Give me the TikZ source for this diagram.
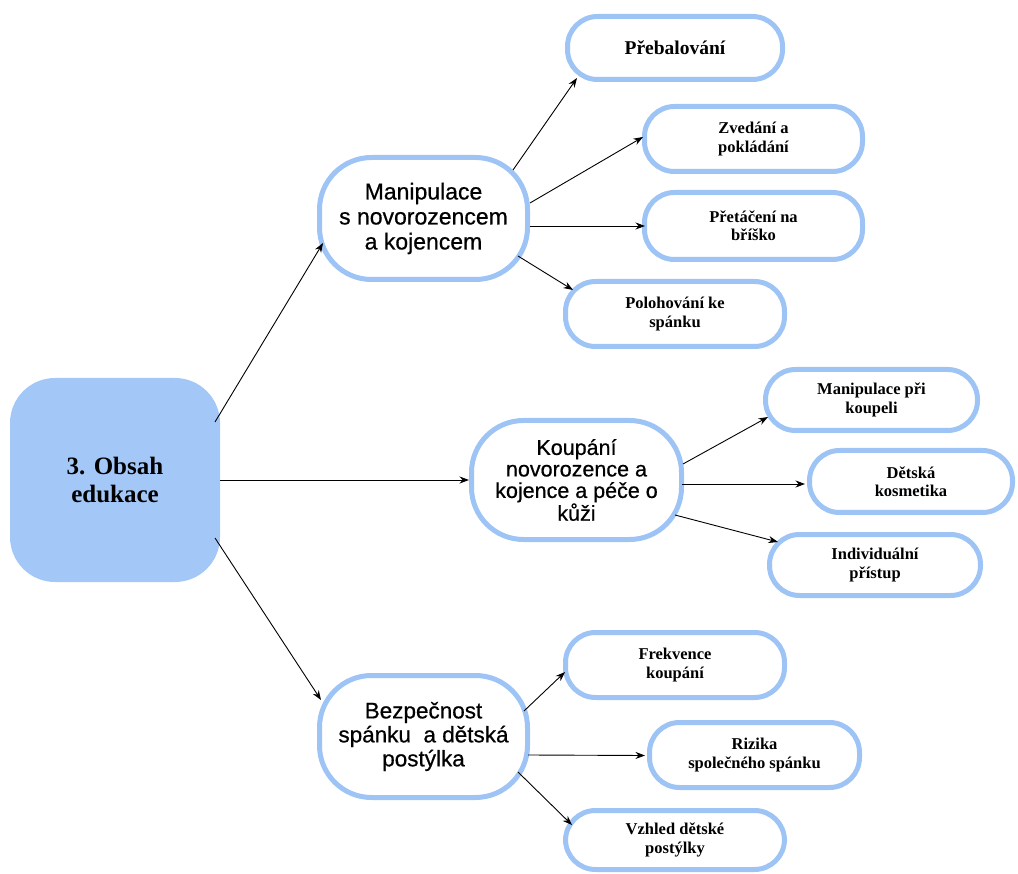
\documentclass[tikz,border=0pt]{standalone}
\usepackage{fontspec}
\setmainfont{Liberation Serif}
\newfontfamily\sansf[FakeBold=0.6]{Liberation Sans}
\usetikzlibrary{calc,arrows.meta}
\definecolor{rootfill}{HTML}{A3C8F8}
\definecolor{edgeblue}{HTML}{9EC4F6}
\begin{document}
\begin{tikzpicture}[x=1pt,y=-1pt,
 base/.style={draw=edgeblue, line width=5pt, fill=white, align=center, inner sep=0pt, text=black},
 big/.style={base, rounded corners=52pt},
 small/.style={base, rounded corners=30pt, font=\bfseries\fontsize{16.5}{18.3}\selectfont},
 arr/.style={-{Stealth[length=9.5pt,width=7pt]}, line width=0.9pt, black}]
\useasboundingbox (0,0) rectangle (1018,874);

\node[fill=rootfill, rounded corners=45pt, minimum width=210pt, minimum height=204pt, inner sep=0pt, align=center,
  font=\bfseries\fontsize{25}{28}\selectfont] (root) at (115,480) {3. Obsah\\edukace};

\node[big, minimum width=208pt, minimum height=122pt, font=\sansf\fontsize{23}{25}\selectfont] (man) at (423.5,218.5) {Manipulace\\s novorozencem\\a kojencem};
\node[big, minimum width=210pt, minimum height=119pt, font=\sansf\fontsize{21.5}{21.5}\selectfont] (koup) at (576.5,480) {Koupání\\novorozence a\\kojence a péče o\\kůži};
\node[big, minimum width=208pt, minimum height=122pt, font=\sansf\fontsize{22.5}{24}\selectfont] (bez) at (423.5,736.5) {Bezpečnost\\spánku\ \ a dětská\\postýlka};

\node[small, minimum width=215pt, minimum height=63pt, font=\bfseries\fontsize{19.5}{22}\selectfont] (preb) at (675,48) {Přebalování};
\node[small, minimum width=218pt, minimum height=65pt] (zved) at (753.5,139) {Zvedání a\\pokládání};
\node[small, minimum width=218pt, minimum height=67pt] (pret) at (753.5,226) {Přetáčení na\\bříško};
\node[small, minimum width=219pt, minimum height=65pt] (polo) at (675,314) {Polohování ke\\spánku};

\node[small, minimum width=212pt, minimum height=61pt] (mpk) at (871.5,400) {Manipulace při\\koupeli};
\node[small, minimum width=203pt, minimum height=62pt] (kosm) at (911,481.5) {Dětská\\kosmetika};
\node[small, minimum width=211pt, minimum height=61pt] (indi) at (875,565) {Individuální\\přístup};

\node[small, minimum width=219pt, minimum height=65pt] (frek) at (675,665) {Frekvence\\koupání};
\node[small, minimum width=210pt, minimum height=65pt] (riz) at (754.5,755) {Rizika\\společného spánku};
\node[small, minimum width=219pt, minimum height=59pt] (vzh) at (675,840) {Vzhled dětské\\postýlky};

\draw[arr] ($(root)+(100,-58)$) -- ($(man)+(-100.5,24.5)$);
\draw[arr] ($(root)+(105,0)$) -- ($(koup)+(-107.5,0)$);
\draw[arr] ($(root)+(100,58)$) -- ($(bez)+(-102.5,-36.5)$);

\draw[arr] ($(man)+(89.5,-48.5)$) -- ($(preb)+(-98,30)$);
\draw[arr] ($(man)+(106.5,-15.5)$) -- ($(zved)+(-110.5,-2)$);
\draw[arr] ($(man)+(106.5,7.5)$) -- ($(pret)+(-108.5,0)$);
\draw[arr] ($(man)+(94.5,37.5)$) -- ($(polo)+(-102,-24)$);

\draw[arr] ($(koup)+(106.5,-16)$) -- ($(mpk)+(-103.5,17)$);
\draw[arr] ($(koup)+(105.5,4)$) -- ($(kosm)+(-106,2.5)$);
\draw[arr] ($(koup)+(98.5,35)$) -- ($(indi)+(-97,-23)$);

\draw[arr] ($(bez)+(100.5,-25.5)$) -- ($(frek)+(-110,7)$);
\draw[arr] ($(bez)+(104.5,18.5)$) -- ($(riz)+(-109.5,0.5)$);
\draw[arr] ($(bez)+(94.5,35.5)$) -- ($(vzh)+(-103,-15)$);
\end{tikzpicture}
\end{document}
